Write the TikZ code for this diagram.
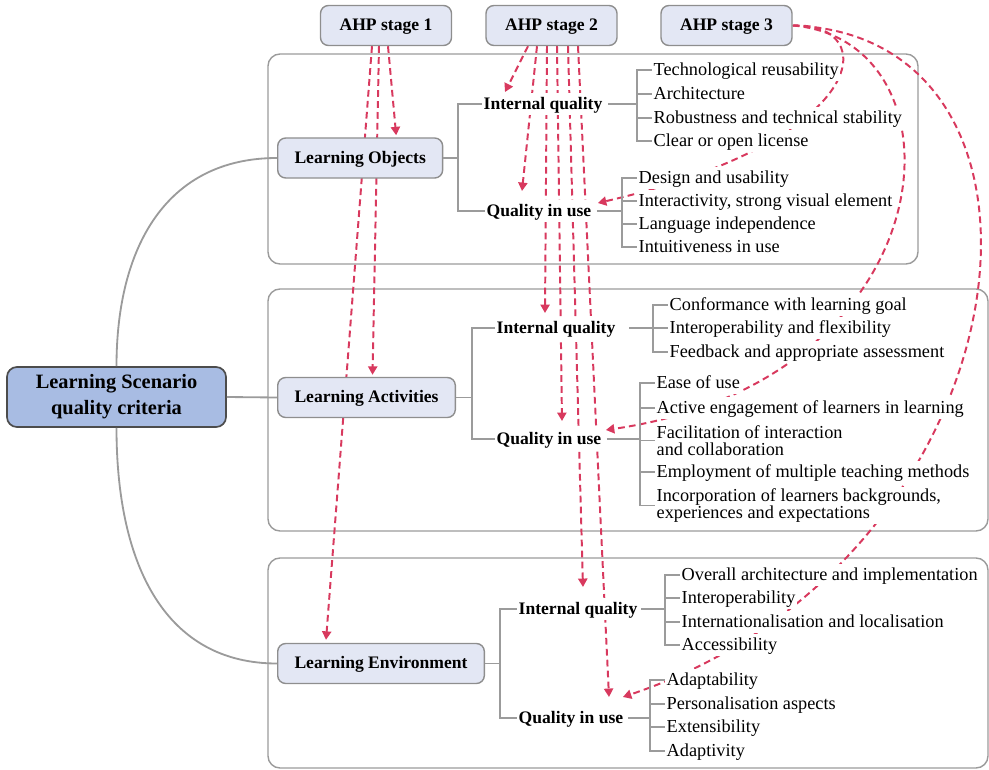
\documentclass[tikz,border=0pt]{standalone}
\usepackage{fontspec}
\setmainfont{Liberation Serif}
\usepackage{xcolor}
\usetikzlibrary{arrows.meta,calc,positioning}
\definecolor{boxfill}{HTML}{E3E7F4}
\definecolor{boxline}{HTML}{8E8E8E}
\definecolor{rootfill}{HTML}{A8BCE3}
\definecolor{treeline}{HTML}{9B9B9B}
\definecolor{ahpred}{HTML}{D8395E}
\pgfdeclarelayer{background}
\pgfsetlayers{background,main}
\tikzset{%
	root/.style     = {draw=black!70, fill=rootfill, line width=1.2pt, rounded corners=0.25cm, align=center, minimum width=5.475cm, minimum height=1.5cm, font=\fontsize{14.5}{18.5}\selectfont\bfseries}, % Root
	crit/.style     = {draw=boxline, fill=boxfill, line width=1pt, rounded corners=0.2cm, inner xsep=0.42cm, minimum height=1cm, text height=10pt, text depth=2.4pt, font=\fontsize{12.5}{15}\selectfont\bfseries},
	stage/.style    = {crit, minimum width=3.275cm}, % AHP stage
	sub/.style      = {fill=white, inner sep=1pt, anchor=west, text height=10.4pt, text depth=3pt, font=\fontsize{12.5}{15}\selectfont\bfseries},
	item/.style     = {fill=white, inner sep=1pt, anchor=west, align=left, font=\fontsize{13}{12.2}\selectfont},
	itemone/.style  = {item, text height=10.5pt, text depth=3pt},
	tree/.style     = {draw=treeline, line width=1.3pt},
	panel/.style    = {draw=treeline, line width=1pt, rounded corners=0.3cm},
	ahp/.style      = {ahpred, line width=1.4pt, dash pattern=on 4.8pt off 3pt, -{Triangle[length=6pt,width=6.5pt]}},
}
\begin{document}
\begin{tikzpicture}[x=0.025cm, y=-0.025cm]
	\useasboundingbox (0,0) rectangle (989,770);
	\node[stage] (s1) at (386,25.5) {AHP stage 1};
	\node[stage] (s2) at (551.5,25.5) {AHP stage 2};
	\node[stage] (s3) at (726.5,25.5) {AHP stage 3};
	\node[root] (root) at (116.5,397) {Learning Scenario\\quality criteria};
	\node[crit,anchor=west] (lo) at (277,158) {Learning Objects};
	\node[crit,anchor=west] (la) at (277,397.5) {Learning Activities};
	\node[crit,anchor=west] (le) at (277,663.5) {Learning Environment};
	
	\node[sub] (iqo) at (482,104) {Internal quality};
	\node[sub] (quo) at (485,211) {Quality in use};
	\node[sub] (iqa) at (495,328) {Internal quality};
	\node[sub] (qua) at (495,439) {Quality in use};
	\node[sub] (iqe) at (517,609) {Internal quality};
	\node[sub] (que) at (517,718) {Quality in use};
	
	\node[itemone] (o1) at (652,70) {Technological reusability};
	\node[itemone] (o2) at (652,94) {Architecture};
	\node[itemone] (o3) at (652,118) {Robustness and technical stability};
	\node[itemone] (o4) at (652,141) {Clear or open license};
	\node[itemone] (u1) at (637,178) {Design and usability};
	\node[itemone] (u2) at (637,201) {Interactivity, strong visual element};
	\node[itemone] (u3) at (637,224) {Language independence};
	\node[itemone] (u4) at (637,247) {Intuitiveness in use};
	
	\node[itemone] (a1) at (668,305) {Conformance with learning goal};
	\node[itemone] (a2) at (668,328) {Interoperability and flexibility};
	\node[itemone] (a3) at (668,352) {Feedback and appropriate assessment};
	\node[itemone] (b1) at (655,383) {Ease of use};
	\node[itemone] (b2) at (655,408) {Active engagement of learners in learning};
	\node[item] (b3) at (655,440.5) {Facilitation of interaction\\and collaboration};
	\node[itemone] (b4) at (655,472) {Employment of multiple teaching methods};
	\node[item] (b5) at (655,505.5) {Incorporation of learners backgrounds,\\experiences and expectations};
	
	\node[itemone] (e1) at (680,575) {Overall architecture and implementation};
	\node[itemone] (e2) at (680,598) {Interoperability};
	\node[itemone] (e3) at (680,622) {Internationalisation and localisation};
	\node[itemone] (e4) at (680,645) {Accessibility};
	\node[itemone] (f1) at (665,680) {Adaptability};
	\node[itemone] (f2) at (665,704) {Personalisation aspects};
	\node[itemone] (f3) at (665,727) {Extensibility};
	\node[itemone] (f4) at (665,751) {Adaptivity};
	
	\coordinate (ko) at (637,104);
	\coordinate (ku) at (622,211);
	\coordinate (ka) at (653,328);
	\coordinate (kb) at (640,439);
	\coordinate (ke) at (665,609);
	\coordinate (kf) at (650,718);
	
	\draw[tree] (root.north) .. controls +(0,-120) and +(-110,0) .. (lo.west);
	\draw[tree] (root.east) -- (la.west);
	\draw[tree] (root.south) .. controls +(0,140) and +(-110,0) .. (le.west);
	\draw[tree] (lo.east) -- ++(15,0) |- (iqo.west) (lo.east) -- ++(15,0) |- (quo.west);
	\draw[tree] (la.east) -- ++(16,0) |- (iqa.west) (la.east) -- ++(16,0) |- (qua.west);
	\draw[tree] (le.east) -- ++(15,0) |- (iqe.west) (le.east) -- ++(15,0) |- (que.west);
	\draw[tree] ($(iqo.east)+(4,0)$) -- (ko) |- (o1.west) (ko) |- (o2.west) (ko) |- (o3.west) (ko) |- (o4.west);
	\draw[tree] ($(quo.east)+(4,0)$) -- (ku) |- (u1.west) (ku) |- (u2.west) (ku) |- (u3.west) (ku) |- (u4.west);
	\draw[tree] ($(iqa.east)+(12,0)$) -- (ka) |- (a1.west) (ka) |- (a2.west) (ka) |- (a3.west);
	\draw[tree] ($(qua.east)+(4,0)$) -- (kb) |- (b1.west) (kb) |- (b2.west) (kb) |- (b3.west) (kb) |- (b4.west) (kb) |- (b5.west);
	\draw[tree] ($(iqe.east)+(2,0)$) -- (ke) |- (e1.west) (ke) |- (e2.west) (ke) |- (e3.west) (ke) |- (e4.west);
	\draw[tree] ($(que.east)+(3,0)$) -- (kf) |- (f1.west) (kf) |- (f2.west) (kf) |- (f3.west) (kf) |- (f4.west);
	
	\begin{pgfonlayer}{background}
		\draw[panel] (268,54) rectangle (918,264);
		\draw[panel] (268,289) rectangle (988,531);
		\draw[panel] (268,558) rectangle (988,768);
		% stage 1
		\draw[ahp] ($(s1.south)+(2,0)$) -- ($(lo.north)+(36,-2)$);
		\draw[ahp] ($(s1.south)+(-7,0)$) -- ($(la.north)+(6,-2)$);
		\draw[ahp] ($(s1.south)+(-14,0)$) -- ($(le.north)+(-55,-3)$);
		% stage 2
		\draw[ahp] ($(s2.south)+(-23.5,0)$) -- ($(iqo.west)+(23,-12)$);
		\draw[ahp] ($(s2.south)+(-14.5,0)$) -- ($(quo.west)+(37,-20)$);
		\draw[ahp] ($(s2.south)+(-4.5,0)$) -- ($(iqa.west)+(50,-15)$);
		\draw[ahp] ($(s2.south)+(5.5,0)$) -- ($(qua.west)+(67,-18)$);
		\draw[ahp] ($(s2.south)+(16.5,0)$) -- ($(iqe.west)+(66,-22)$);
		\draw[ahp] ($(s2.south)+(26.5,0)$) -- ($(que.west)+(92,-21)$);
		% stage 3
		\draw[ahp] (s3.east) .. controls +(90,-3) and +(273,-63) .. ($(quo.east)+(5,-8)$);
		\draw[ahp] (s3.east) .. controls +(180,15) and +(345,-50) .. ($(qua.east)+(3,-9)$);
		\draw[ahp] (s3.east) .. controls +(300,10) and +(408,-137) .. ($(que.east)+(-2,-21)$);
	\end{pgfonlayer}
\end{tikzpicture}
\end{document}
